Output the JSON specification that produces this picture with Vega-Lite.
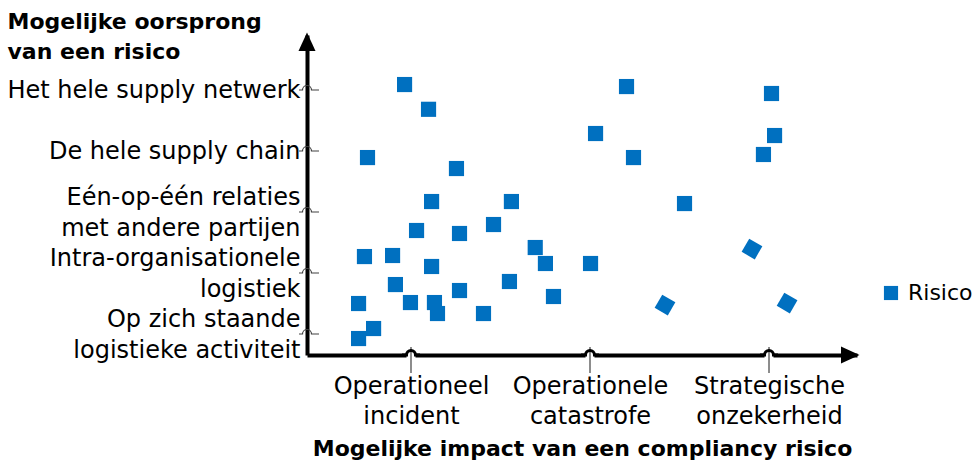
{
  "$schema": "https://vega.github.io/schema/vega-lite/v6.json",
  "width": 550,
  "height": 320,
  "autosize": {"type": "none"},
  "padding": {"left": 307, "top": 35, "right": 119, "bottom": 111},
  "config": {"view": {"stroke": null}, "font": "DejaVu Sans"},
  "datasets": {
    "risicos": [
      {"impact": 0.964, "oorsprong": 5.090, "stand": "recht", "reeks": "Risico"},
      {"impact": 1.098, "oorsprong": 4.684, "stand": "recht", "reeks": "Risico"},
      {"impact": 0.757, "oorsprong": 3.893, "stand": "recht", "reeks": "Risico"},
      {"impact": 1.254, "oorsprong": 3.713, "stand": "recht", "reeks": "Risico"},
      {"impact": 1.115, "oorsprong": 3.172, "stand": "recht", "reeks": "Risico"},
      {"impact": 1.561, "oorsprong": 3.172, "stand": "recht", "reeks": "Risico"},
      {"impact": 1.031, "oorsprong": 2.697, "stand": "recht", "reeks": "Risico"},
      {"impact": 1.271, "oorsprong": 2.648, "stand": "recht", "reeks": "Risico"},
      {"impact": 1.461, "oorsprong": 2.795, "stand": "recht", "reeks": "Risico"},
      {"impact": 1.694, "oorsprong": 2.418, "stand": "recht", "reeks": "Risico"},
      {"impact": 0.740, "oorsprong": 2.270, "stand": "recht", "reeks": "Risico"},
      {"impact": 0.897, "oorsprong": 2.287, "stand": "recht", "reeks": "Risico"},
      {"impact": 1.115, "oorsprong": 2.107, "stand": "recht", "reeks": "Risico"},
      {"impact": 1.751, "oorsprong": 2.156, "stand": "recht", "reeks": "Risico"},
      {"impact": 2.003, "oorsprong": 2.156, "stand": "recht", "reeks": "Risico"},
      {"impact": 0.913, "oorsprong": 1.811, "stand": "recht", "reeks": "Risico"},
      {"impact": 1.271, "oorsprong": 1.713, "stand": "recht", "reeks": "Risico"},
      {"impact": 1.550, "oorsprong": 1.861, "stand": "recht", "reeks": "Risico"},
      {"impact": 1.796, "oorsprong": 1.615, "stand": "recht", "reeks": "Risico"},
      {"impact": 0.707, "oorsprong": 1.500, "stand": "recht", "reeks": "Risico"},
      {"impact": 0.997, "oorsprong": 1.516, "stand": "recht", "reeks": "Risico"},
      {"impact": 1.131, "oorsprong": 1.516, "stand": "recht", "reeks": "Risico"},
      {"impact": 1.148, "oorsprong": 1.336, "stand": "recht", "reeks": "Risico"},
      {"impact": 1.405, "oorsprong": 1.336, "stand": "recht", "reeks": "Risico"},
      {"impact": 0.791, "oorsprong": 1.090, "stand": "recht", "reeks": "Risico"},
      {"impact": 0.707, "oorsprong": 0.926, "stand": "recht", "reeks": "Risico"},
      {"impact": 2.204, "oorsprong": 5.057, "stand": "recht", "reeks": "Risico"},
      {"impact": 3.014, "oorsprong": 4.943, "stand": "recht", "reeks": "Risico"},
      {"impact": 2.031, "oorsprong": 4.287, "stand": "recht", "reeks": "Risico"},
      {"impact": 3.031, "oorsprong": 4.254, "stand": "recht", "reeks": "Risico"},
      {"impact": 2.243, "oorsprong": 3.893, "stand": "recht", "reeks": "Risico"},
      {"impact": 2.969, "oorsprong": 3.943, "stand": "recht", "reeks": "Risico"},
      {"impact": 2.528, "oorsprong": 3.139, "stand": "recht", "reeks": "Risico"},
      {"impact": 2.905, "oorsprong": 2.393, "stand": "gedraaid", "reeks": "Risico"},
      {"impact": 2.419, "oorsprong": 1.475, "stand": "gedraaid", "reeks": "Risico"},
      {"impact": 3.101, "oorsprong": 1.508, "stand": "gedraaid", "reeks": "Risico"}
    ],
    "yticks": [{"niveau": 1}, {"niveau": 2}, {"niveau": 3}, {"niveau": 4}, {"niveau": 5}],
    "xticks": [{"niveau": 1}, {"niveau": 2}, {"niveau": 3}],
    "leeg": [{}]
  },
  "layer": [
    {
      "data": {"name": "risicos"},
      "mark": {"type": "point", "shape": "square", "filled": true, "opacity": 1, "size": 230, "strokeWidth": 0},
      "encoding": {
        "x": {
          "field": "impact", "type": "quantitative",
          "scale": {"domain": [0.419, 3.4916], "nice": false, "zero": false},
          "axis": {
            "values": [1, 2, 3],
            "labelExpr": "datum.value == 1 ? ['Operationeel', 'incident'] : datum.value == 2 ? ['Operationele', 'catastrofe'] : ['Strategische', 'onzekerheid']",
            "ticks": false, "grid": false,
            "domainColor": "#000", "domainWidth": 4,
            "labelFontSize": 24, "labelColor": "#000", "labelPadding": 19, "labelLineHeight": 30,
            "labelOverlap": false, "labelFlush": false, "labelBound": false, "labelLimit": 0,
            "title": "Mogelijke impact van een compliancy risico",
            "titleFontSize": 22, "titleFontWeight": "bold", "titleColor": "#000",
            "titleY": 93, "titleBaseline": "middle"
          }
        },
        "y": {
          "field": "oorsprong", "type": "quantitative",
          "scale": {"domain": [0.656, 5.902], "nice": false, "zero": false},
          "axis": {
            "values": [1, 2, 3, 4, 5],
            "labelExpr": "datum.value == 5 ? 'Het hele supply netwerk' : datum.value == 4 ? 'De hele supply chain' : datum.value == 3 ? ['Eén-op-één relaties', 'met andere partijen'] : datum.value == 2 ? ['Intra-organisationele', 'logistiek'] : ['Op zich staande', 'logistieke activiteit']",
            "ticks": false, "grid": false,
            "domainColor": "#000", "domainWidth": 4,
            "labelFontSize": 24, "labelColor": "#000", "labelPadding": 7, "labelLineHeight": 31,
            "labelBaseline": "middle",
            "labelOffset": {"condition": {"test": "datum.value <= 3", "value": -15}, "value": 0},
            "labelOverlap": false, "labelFlush": false, "labelBound": false, "labelLimit": 0,
            "title": ["Mogelijke oorsprong", "van een risico"],
            "titleAngle": 0, "titleAlign": "left", "titleBaseline": "alphabetic",
            "titleX": -300, "titleY": -7,
            "titleFontSize": 22, "titleFontWeight": "bold", "titleColor": "#000", "titleLineHeight": 30
          }
        },
        "color": {
          "field": "reeks", "type": "nominal",
          "scale": {"range": ["#0070C0"]},
          "legend": {
            "title": null, "orient": "none", "legendX": 573, "legendY": 247,
            "symbolType": "square", "symbolSize": 200, "symbolStrokeWidth": 0,
            "labelFontSize": 22, "labelColor": "#000", "labelOffset": 6
          }
        },
        "angle": {"condition": {"test": "datum.stand === 'gedraaid'", "value": 30}, "value": 0}
      }
    },
    {
      "data": {"name": "yticks"},
      "mark": {"type": "point", "shape": "M-0.8,0 L-0.45,0 A0.45,0.45 0 0 1 0.45,0 L1.2,0", "filled": false, "stroke": "#404040", "strokeWidth": 1.2, "size": 400, "opacity": 1},
      "encoding": {
        "x": {"datum": 0.419, "type": "quantitative"},
        "y": {"field": "niveau", "type": "quantitative"}
      }
    },
    {
      "data": {"name": "xticks"},
      "mark": {"type": "point", "shape": "M-0.45,-0.3 L0.45,-0.3 L0.45,0.3 L-0.45,0.3 Z", "filled": true, "color": "white", "size": 400, "opacity": 1, "strokeWidth": 0},
      "encoding": {
        "x": {"field": "niveau", "type": "quantitative"},
        "y": {"datum": 0.656, "type": "quantitative"}
      }
    },
    {
      "data": {"name": "xticks"},
      "mark": {"type": "point", "shape": "M0,-0.8 L0,1.8", "filled": false, "stroke": "#404040", "strokeWidth": 1.2, "size": 400, "opacity": 1},
      "encoding": {
        "x": {"field": "niveau", "type": "quantitative"},
        "y": {"datum": 0.656, "type": "quantitative"}
      }
    },
    {
      "data": {"name": "xticks"},
      "mark": {"type": "point", "shape": "M-0.9,0 L-0.45,0 A0.45,0.45 0 0 1 0.45,0 L0.9,0", "filled": false, "stroke": "#000", "strokeWidth": 3, "size": 400, "opacity": 1},
      "encoding": {
        "x": {"field": "niveau", "type": "quantitative"},
        "y": {"datum": 0.656, "type": "quantitative"}
      }
    },
    {
      "data": {"name": "leeg"},
      "mark": {"type": "point", "shape": "M0,-0.25 L-0.85,1.6 L0.85,1.6 Z", "filled": true, "color": "#000", "size": 400, "opacity": 1, "strokeWidth": 0},
      "encoding": {
        "x": {"datum": 0.419, "type": "quantitative"},
        "y": {"datum": 5.902, "type": "quantitative"}
      }
    },
    {
      "data": {"name": "leeg"},
      "mark": {"type": "point", "shape": "M0.25,0 L-1.6,-0.85 L-1.6,0.85 Z", "filled": true, "color": "#000", "size": 400, "opacity": 1, "strokeWidth": 0},
      "encoding": {
        "x": {"datum": 3.4916, "type": "quantitative"},
        "y": {"datum": 0.656, "type": "quantitative"}
      }
    }
  ]
}
